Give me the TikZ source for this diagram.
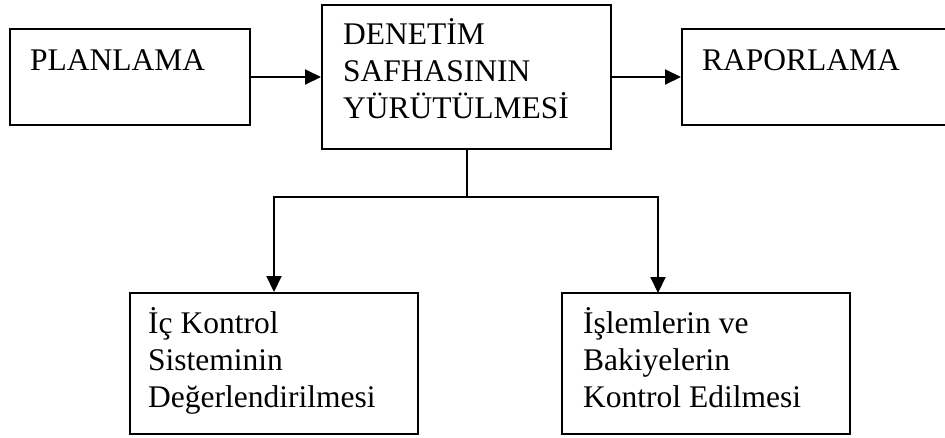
\documentclass[tikz,border=0pt]{standalone}
\usepackage{fontspec}
\setmainfont{Liberation Serif}
\usetikzlibrary{arrows.meta}
\begin{document}
\begin{tikzpicture}[x=1pt,y=1pt,
  box/.style={draw, line width=2pt, rectangle, inner sep=0pt},
  lbl/.style={anchor=base west, inner sep=0pt, align=left, font=\fontsize{31.5}{36.7}\selectfont},
  arr/.style={line width=2pt, -{Triangle[length=16pt,width=15pt]}},
  ln/.style={line width=2pt}]
\useasboundingbox (0,0) rectangle (945,-437);
\clip (0,0) rectangle (945,-437);
\fill[white] (0,0) rectangle (945,-437);
% boxes
\node[box, minimum width=240pt, minimum height=96pt] (plan) at (130,-77) {};
\node[box, minimum width=289pt, minimum height=144pt] (den) at (466.5,-77) {};
\node[box, minimum width=278pt, minimum height=96pt] (rap) at (821,-77) {};
\node[box, minimum width=288pt, minimum height=141pt] (ic) at (274,-363.5) {};
\node[box, minimum width=288pt, minimum height=141pt] (isl) at (706,-363.5) {};
% texts (anchor = baseline of last line)
\node[lbl] (tplan) at (30,-70) {PLANLAMA};
\node[lbl] (tden) at (343,-118) {DENETİM\\SAFHASININ\\YÜRÜTÜLMESİ};
\node[lbl] (trap) at (702,-70) {RAPORLAMA};
\node[lbl] (tic) at (148,-407) {İç Kontrol\\Sisteminin\\Değerlendirilmesi};
\node[lbl] (tisl) at (583,-407) {İşlemlerin ve\\Bakiyelerin\\Kontrol Edilmesi};
% connectors
\draw[arr] (plan.east) -- (den.west);
\draw[arr] (den.east) -- (rap.west);
\coordinate (j) at (466.5,-197);
\coordinate (islin) at (658,-293);
\draw[ln] (den.south) -- (j);
\draw[arr] (j) -| (ic.north);
\draw[arr] (j) -| (islin);
\end{tikzpicture}
\end{document}
